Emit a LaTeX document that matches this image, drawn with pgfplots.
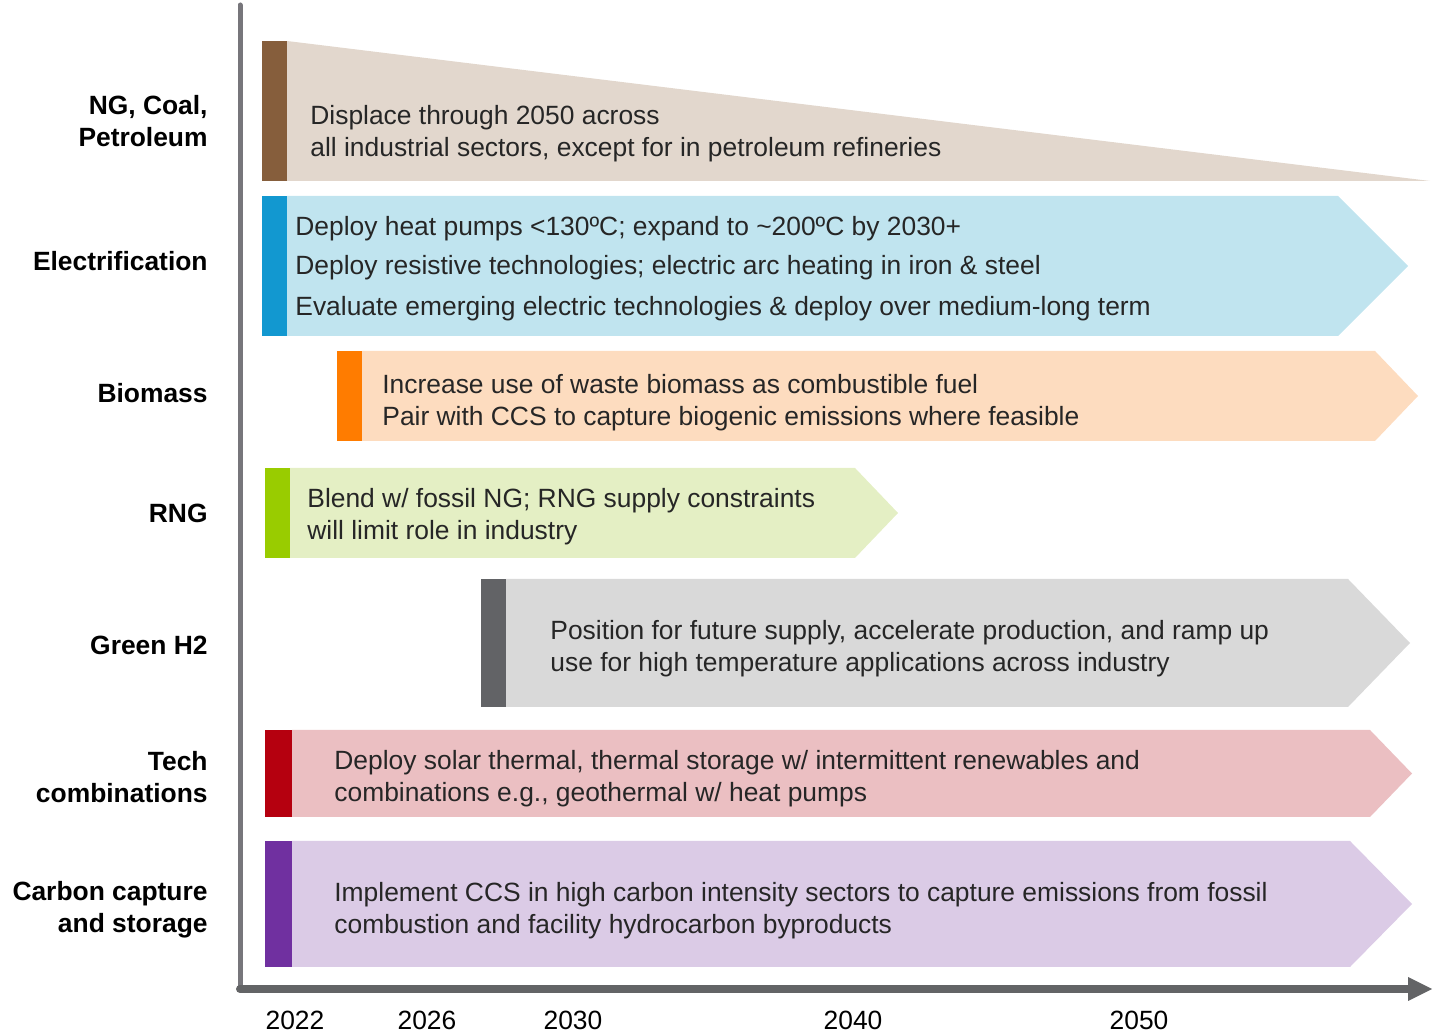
\documentclass[border=0pt]{standalone}
\usepackage{pgfplots}
\pgfplotsset{compat=1.18}
\usepackage{fontspec}
\setmainfont{Liberation Sans}
\definecolor{txt}{HTML}{262626}
\definecolor{brownD}{HTML}{865E3C}\definecolor{brownL}{HTML}{E2D7CD}
\definecolor{blueD}{HTML}{1298D0}\definecolor{blueL}{HTML}{C0E4EF}
\definecolor{orD}{HTML}{FF7C00}\definecolor{orL}{HTML}{FDDCBF}
\definecolor{grD}{HTML}{99CC00}\definecolor{grL}{HTML}{E4EFC4}
\definecolor{gyD}{HTML}{626366}\definecolor{gyL}{HTML}{D9D9D9}
\definecolor{rdD}{HTML}{B5000F}\definecolor{rdL}{HTML}{EBBFC2}
\definecolor{puD}{HTML}{7030A0}\definecolor{puL}{HTML}{DBCBE6}
\definecolor{axY}{HTML}{77767B}\definecolor{axX}{HTML}{636466}
\begin{document}
\begin{tikzpicture}
\begin{axis}[
  x=0.5pt, y=0.5pt,
  xmin=0, xmax=1440, ymin=0, ymax=1032,
  axis line style={draw=none}, tick style={draw=none}, major tick length=0pt,
  clip=false,
  xtick={295,427,573,853,1139},
  xticklabels={2022,2026,2030,2040,2050},
  xticklabel style={anchor=center, yshift=6pt, inner sep=0pt, font=\fontsize{13.2}{16}\selectfont, text=black},
  ytick={122,255,387,519,639,771,911},
  yticklabels={{Carbon capture\\and storage},{Tech\\combinations},{Green H2},{RNG},{Biomass},{Electrification},{NG, Coal,\\Petroleum}},
  yticklabel style={anchor=east, xshift=104pt, inner sep=0pt, align=right, font=\fontsize{13.2}{16}\selectfont\bfseries, text=black},
  every axis plot/.append style={mark=none, draw=none},
]
% NG, Coal, Petroleum
\addplot[fill=brownL] coordinates {(287,991) (1430,851) (287,851)} -- cycle;
\addplot[fill=brownD] coordinates {(262,991) (287,991) (287,851) (262,851)} -- cycle;
% Electrification
\addplot[fill=blueL] coordinates {(287,836) (1338,836) (1408,766) (1338,696) (287,696)} -- cycle;
\addplot[fill=blueD] coordinates {(262,836) (287,836) (287,696) (262,696)} -- cycle;
% Biomass
\addplot[fill=orL] coordinates {(362,681) (1375,681) (1418,636) (1375,591) (362,591)} -- cycle;
\addplot[fill=orD] coordinates {(337,681) (362,681) (362,591) (337,591)} -- cycle;
% RNG
\addplot[fill=grL] coordinates {(290,564) (855,564) (898,519) (855,474) (290,474)} -- cycle;
\addplot[fill=grD] coordinates {(265,564) (290,564) (290,474) (265,474)} -- cycle;
% Green H2
\addplot[fill=gyL] coordinates {(506,453) (1348,453) (1410,389) (1348,325) (506,325)} -- cycle;
\addplot[fill=gyD] coordinates {(481,453) (506,453) (506,325) (481,325)} -- cycle;
% Tech combinations
\addplot[fill=rdL] coordinates {(292,302) (1370,302) (1412,258.5) (1370,215) (292,215)} -- cycle;
\addplot[fill=rdD] coordinates {(265,302) (292,302) (292,215) (265,215)} -- cycle;
% CCS
\addplot[fill=puL] coordinates {(292,191) (1350,191) (1412,128) (1350,65) (292,65)} -- cycle;
\addplot[fill=puD] coordinates {(265,191) (292,191) (292,65) (265,65)} -- cycle;
% axes
\addplot[draw=axY, line width=2.5pt, line cap=round] coordinates {(240,1027) (240,45)};
\addplot[draw=axX, line width=4pt, line cap=round] coordinates {(240,43) (1412,43)};
\addplot[fill=axX] coordinates {(1408,55) (1432,43) (1408,31)} -- cycle;
% texts
\begin{scope}[every node/.style={anchor=base west, inner sep=0pt, text=txt, font=\fontsize{13.2}{16}\selectfont}]
\node at (axis cs:310,907) {Displace through 2050 across};
\node at (axis cs:310,875) {all industrial sectors, except for in petroleum refineries};
\node at (axis cs:295,796) {Deploy heat pumps <130ºC; expand to \textasciitilde200ºC by 2030+};
\node at (axis cs:295,757) {Deploy resistive technologies; electric arc heating in iron \& steel};
\node at (axis cs:295,716) {Evaluate emerging electric technologies \& deploy over medium-long term};
\node at (axis cs:382,638) {Increase use of waste biomass as combustible fuel};
\node at (axis cs:382,606) {Pair with CCS to capture biogenic emissions where feasible};
\node at (axis cs:307,524) {Blend w/ fossil NG; RNG supply constraints};
\node at (axis cs:307,492) {will limit role in industry};
\node at (axis cs:550,392) {Position for future supply, accelerate production, and ramp up};
\node at (axis cs:550,360) {use for high temperature applications across industry};
\node at (axis cs:334,262) {Deploy solar thermal, thermal storage w/ intermittent renewables and};
\node at (axis cs:334,230) {combinations e.g., geothermal w/ heat pumps};
\node at (axis cs:334,130) {Implement CCS in high carbon intensity sectors to capture emissions from fossil};
\node at (axis cs:334,98) {combustion and facility hydrocarbon byproducts};
\end{scope}
\end{axis}
\end{tikzpicture}
\end{document}
